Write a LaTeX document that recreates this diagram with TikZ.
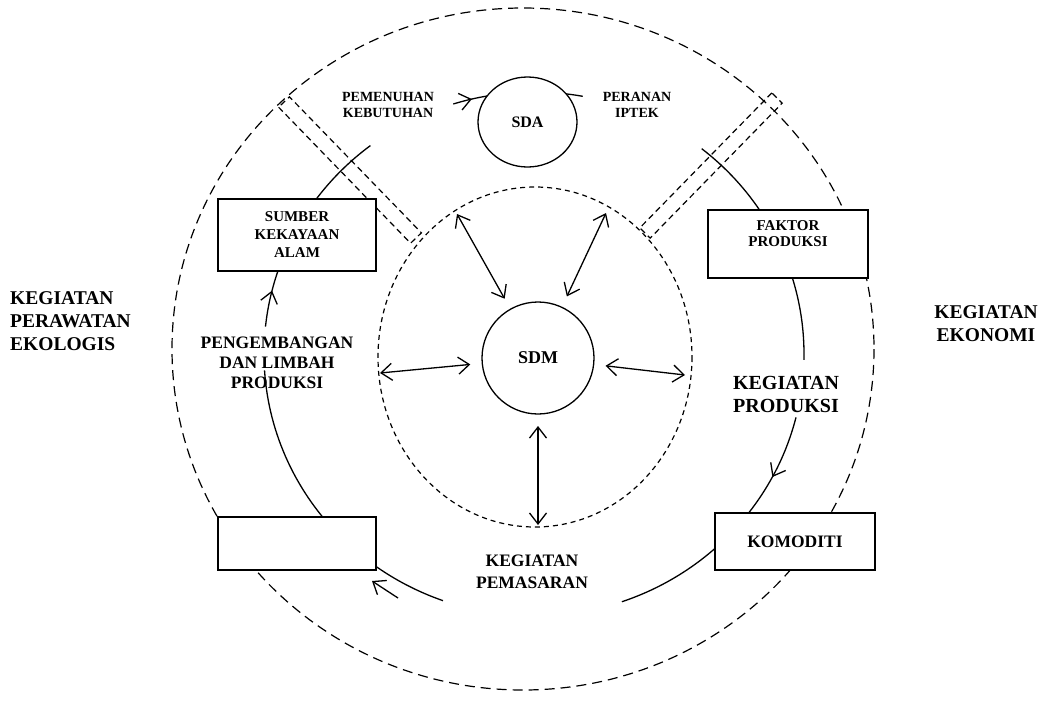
\documentclass[tikz,border=0pt]{standalone}
\usepackage{fontspec}
\setmainfont{Liberation Serif}
\usetikzlibrary{arrows.meta,shapes.geometric}

\begin{document}
\begin{tikzpicture}[x=1pt, y=-1pt,
		flow/.style={
			line width=1.3pt,
			color=black
			},
		ring/.style={line width=1.2pt, dash pattern=on 10pt off 6pt},
		wall/.style={line width=1.2pt, dash pattern=on 6pt off 4pt},
		link/.style={flow, {Straight Barb[length=11pt,width=17pt]}-{Straight Barb[length=11pt,width=17pt]}},
		tip/.style={flow, -{Straight Barb[length=11pt,width=17pt]}},
		box/.style={draw, line width=1.3pt, fill=white, align=center, inner sep=0pt},
		lbl/.style={align=center, inner sep=0pt}
		]

		\useasboundingbox (0,0) rectangle (1044,710);

		\draw[ring] (523,349) ellipse[x radius=351, y radius=341];
		\draw[wall, dash pattern=on 5pt off 4pt] (535,357) ellipse[x radius=157, y radius=170];

		% channels between the sectors
		\draw[wall] (278.6,107.2) -- (410.6,243.2) -- (421.4,232.8) -- (289.4,96.8) -- cycle;
		\draw[wall] (771.8,92.9) -- (639.8,227.9) -- (650.2,238.1) -- (782.2,103.1) -- cycle;

		% flow ring
		\coordinate (C) at (534,354);
		\draw[flow] (C) ++(-127.3:270 and 262) arc[start angle=-127.3, end angle=-150, x radius=270, y radius=262];
		\draw[tip] (C) ++(-174:270 and 262) arc[start angle=-174, end angle=-166, x radius=270, y radius=262];
		\draw[flow] (C) ++(-166.5:270 and 262) arc[start angle=-166.5, end angle=-158, x radius=270, y radius=262];
		\draw[flow] (C) ++(176.4:270 and 262) arc[start angle=176.4, end angle=135, x radius=270, y radius=262];
		\draw[flow] (C) ++(128:270 and 262) arc[start angle=128, end angle=109.7, x radius=270, y radius=262];
		\draw[flow] (C) ++(71:270 and 262) arc[start angle=71, end angle=40, x radius=270, y radius=262];
		\draw[tip] (C) ++(14:270 and 262) arc[start angle=14, end angle=28, x radius=270, y radius=262];
		\draw[flow] (C) ++(27.5:270 and 262) arc[start angle=27.5, end angle=39, x radius=270, y radius=262];
		\draw[flow] (C) ++(1.3:270 and 262) arc[start angle=1.3, end angle=-20, x radius=270, y radius=262];
		\draw[flow] (C) ++(-32:270 and 262) arc[start angle=-32, end angle=-51.6, x radius=270, y radius=262];
		\draw[tip] (C) ++(-107.4:270 and 262) arc[start angle=-107.4, end angle=-103.3, x radius=270, y radius=262];
		\draw[flow] (C) ++(-103.8:270 and 262) arc[start angle=-103.8, end angle=-96, x radius=270, y radius=262];
		\draw[flow] (C) ++(-86:270 and 262) arc[start angle=-86, end angle=-79.6, x radius=270, y radius=262];
		\draw[tip] (398,598) -- (372,581);

		\node[box, minimum width=158pt, minimum height=72pt, font=\fontsize{15}{18}\selectfont\bfseries] (alam) at (297,235) {SUMBER\\KEKAYAAN\\ALAM};
		\node[box, minimum width=160pt, minimum height=68pt, font=\fontsize{15}{16.5}\selectfont\bfseries] (faktor) at (788,244) {FAKTOR\\PRODUKSI\\[4pt]};
		\node[box, minimum width=160pt, minimum height=57pt, font=\fontsize{17.5}{20}\selectfont\bfseries] (komoditi) at (795,541.5) {KOMODITI};
		\node[box, minimum width=158pt, minimum height=53pt] (kosong) at (297,543.5) {};

		\node[draw, ellipse, line width=1.3pt, fill=white, minimum width=99pt, minimum height=90pt, font=\fontsize{16}{18}\selectfont\bfseries] (sda) at (527.5,122) {SDA};
		\node[draw, circle, line width=1.3pt, minimum size=112pt, outer sep=12pt, font=\fontsize{18}{20}\selectfont\bfseries] (sdm) at (538,358) {SDM};

		\coordinate (ul) at (457,214);
		\coordinate (ur) at (606,213);
		\coordinate (lf) at (380,373);
		\coordinate (rt) at (685,375);
		\coordinate (dn) at (538,525);
		\foreach \p in {ul,ur,lf,rt,dn}
			\draw[link] (sdm) -- (\p);

		\begin{scope}[font=\bfseries]
			\node[lbl, anchor=west, align=left, font=\fontsize{19.5}{23}\selectfont\bfseries] (ekologi) at (10,321) {KEGIATAN\\PERAWATAN\\EKOLOGIS};
			\node[lbl, font=\fontsize{19.5}{23}\selectfont\bfseries] (ekonomi) at (986,324) {KEGIATAN\\EKONOMI};
			\node[lbl, font=\fontsize{14}{16}\selectfont\bfseries] (butuh) at (388,105) {PEMENUHAN\\KEBUTUHAN};
			\node[lbl, font=\fontsize{14}{16}\selectfont\bfseries] (iptek) at (637,105) {PERANAN\\IPTEK};
			\node[lbl, font=\fontsize{17.5}{20}\selectfont\bfseries] (limbah) at (277,363) {PENGEMBANGAN\\DAN LIMBAH\\PRODUKSI};
			\node[lbl, font=\fontsize{20}{23}\selectfont\bfseries] (produksi) at (786,394) {KEGIATAN\\PRODUKSI};
			\node[lbl, font=\fontsize{17.5}{22}\selectfont\bfseries] (pasar) at (532,572) {KEGIATAN\\PEMASARAN};
		\end{scope}

	\end{tikzpicture}
\end{document}
